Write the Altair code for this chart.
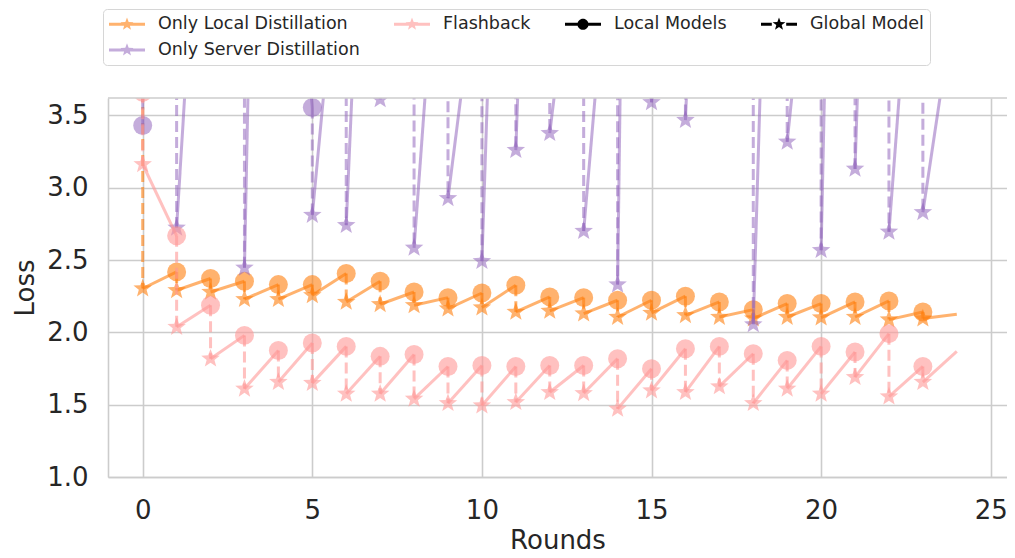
import math
import altair as alt
import pandas as pd

# ---------------- data ----------------
rounds_local = list(range(25))   # local-model evaluations (round 24 = end of last local training)
rounds_global = list(range(24))  # global-model evaluations

local_ld = [4.0, 2.418, 2.372, 2.353, 2.33, 2.33, 2.407, 2.353, 2.279, 2.24, 2.272, 2.326,
            2.245, 2.24, 2.222, 2.222, 2.25, 2.21, 2.157, 2.199, 2.199, 2.21, 2.217, 2.141, 2.125]
global_ld = [2.303, 2.291, 2.279, 2.229, 2.229, 2.256, 2.21, 2.194, 2.187, 2.164, 2.171, 2.141,
             2.148, 2.13, 2.106, 2.134, 2.118, 2.106, 2.095, 2.106, 2.102, 2.106, 2.088, 2.095]

local_sd = [3.43, 7.0, 6.55, 7.5, 14.0, 3.554, 5.30, 8.14, 8.0, 5.81, 4.78, 9.55,
            10.0, 5.3, 5.45, 20.0, 8.0, 9.0, 7.0, 9.98, 5.6, 13.6, 10.35, 5.8, 4.4]
global_sd = [4.8, 2.723, 5.0, 2.446, 6.0, 2.811, 2.741, 3.61, 2.584, 2.927, 2.492, 3.26,
             3.377, 2.70, 2.33, 3.59, 3.467, 6.0, 2.055, 3.317, 2.568, 3.13, 2.695, 2.83]

local_fb = [3.66, 2.667, 2.187, 1.979, 1.875, 1.926, 1.903, 1.834, 1.847, 1.764, 1.771, 1.764,
            1.771, 1.771, 1.818, 1.748, 1.887, 1.903, 1.852, 1.806, 1.903, 1.864, 1.991, 1.764, 1.868]
global_fb = [3.162, 2.037, 1.818, 1.61, 1.656, 1.649, 1.575, 1.575, 1.54, 1.51, 1.494, 1.517,
             1.586, 1.579, 1.471, 1.598, 1.586, 1.626, 1.51, 1.61, 1.575, 1.69, 1.556, 1.656]

methods = ["Only Local Distillation", "Only Server Distillation", "Flashback"]
method_colors = ["#ff7f0e", "#9467bd", "#ff9896"]
method_opacity = [0.6, 0.55, 0.6]
series = {
    "Only Local Distillation": (local_ld, global_ld),
    "Only Server Distillation": (local_sd, global_sd),
    "Flashback": (local_fb, global_fb),
}

x_ticks = [0, 5, 10, 15, 20, 25]
y_ticks = [1.0, 1.5, 2.0, 2.5, 3.0, 3.5]

legend_entries = ["Only Local Distillation", "Flashback", "Local Models", "Global Model",
                  "Only Server Distillation"]

# ---------------- layout / style ----------------
FONT = "DejaVu Sans"
TXT = "#262626"
GRID = "#cccccc"
W, H = 899, 379
xs = alt.Scale(domain=[-1.023, 25.48], nice=False, zero=False)
ys = alt.Scale(domain=[1.0, 3.62], nice=False, zero=False)

x_axis = alt.Axis(values=x_ticks, title="Rounds", grid=True, gridColor=GRID, gridWidth=1.6,
                  domain=True, domainColor=GRID, domainWidth=1.6, ticks=False, tickSize=0,
                  labelFont=FONT, labelFontSize=26, labelColor=TXT, labelPadding=20,
                  titleFont=FONT, titleFontSize=26, titleFontWeight="normal", titleColor=TXT,
                  titlePadding=4)
y_axis = alt.Axis(values=y_ticks, format=".1f", title="Loss", grid=True, gridColor=GRID,
                  gridWidth=1.6, domain=True, domainColor=GRID, domainWidth=1.6, ticks=False,
                  tickSize=0, labelFont=FONT, labelFontSize=26, labelColor=TXT, labelPadding=20,
                  titleFont=FONT, titleFontSize=26, titleFontWeight="normal", titleColor=TXT,
                  titlePadding=8)


# ---------------- marker / legend symbol paths ----------------
def star_path(cx, R):
    pts = []
    for k in range(10):
        a = -math.pi / 2 + k * math.pi / 5
        rr = R if k % 2 == 0 else R * 0.42
        pts.append((cx + rr * math.cos(a), rr * math.sin(a)))
    return "M" + "L".join(f"{px:.3f},{py:.3f}" for px, py in pts) + "Z"


def rect(x0, x1, t=0.17):
    return f"M{x0},{-t}L{x1},{-t}L{x1},{t}L{x0},{t}Z"


def circle(cx, r):
    return (f"M{cx - r:.3f},0A{r},{r},0,1,1,{cx + r:.3f},0"
            f"A{r},{r},0,1,1,{cx - r:.3f},0Z")


STAR = star_path(0, 1)

layers = []
for m, col, op in zip(methods, method_colors, method_opacity):
    loc, glo = series[m]
    solid = pd.DataFrame({"x": rounds_global, "y": glo,
                          "x2": [r + 1 for r in rounds_global], "y2": loc[1:]})
    dashed = pd.DataFrame({"x": rounds_global, "y": loc[:24], "y2": glo})
    circ = pd.DataFrame({"x": rounds_global, "y": loc[:24]})
    star = pd.DataFrame({"x": rounds_global, "y": glo})

    layers.append(alt.Chart(solid).mark_rule(color=col, opacity=op, strokeWidth=3, clip=True)
                  .encode(x=alt.X("x:Q", scale=xs, axis=x_axis),
                          y=alt.Y("y:Q", scale=ys, axis=y_axis),
                          x2="x2:Q", y2="y2:Q"))
    layers.append(alt.Chart(dashed).mark_rule(color=col, opacity=op, strokeWidth=3,
                                               strokeDash=[11, 5], clip=True)
                  .encode(x=alt.X("x:Q", scale=xs, axis=x_axis),
                          y=alt.Y("y:Q", scale=ys, axis=y_axis), y2="y2:Q"))
    layers.append(alt.Chart(circ).mark_point(shape="circle", filled=True, size=360, color=col,
                                              opacity=op, strokeWidth=0, clip=True)
                  .encode(x=alt.X("x:Q", scale=xs, axis=x_axis),
                          y=alt.Y("y:Q", scale=ys, axis=y_axis)))
    layers.append(alt.Chart(star).mark_point(shape=STAR, filled=True, size=380, color=col,
                                              opacity=op, strokeWidth=0, clip=True)
                  .encode(x=alt.X("x:Q", scale=xs, axis=x_axis),
                          y=alt.Y("y:Q", scale=ys, axis=y_axis)))

# top frame line (spine)
layers.append(alt.Chart(pd.DataFrame({"k": [0]})).mark_rule(color=GRID, strokeWidth=1.6)
              .encode(x=alt.value(0), x2=alt.value(W), y=alt.value(0)))

line_star = rect(-1, 3) + star_path(1, 0.75)
line_circle = rect(-1, 3) + circle(1, 0.62)
dash_star = rect(-1, 0.2) + rect(1.8, 3) + star_path(1, 0.75)

entry_paths = [line_star, line_star, line_circle, dash_star, line_star]
# method colours pre-blended with white at the marks' opacity; black keys opaque
entry_colors = ["#ffb26e", "#ffc1c0", "#000000", "#000000", "#c4acdb"]

leg_df = pd.DataFrame({"entry": legend_entries, "x": [-5] * 5, "y": [2.0] * 5})
legend = alt.Legend(orient="none", direction="horizontal", legendX=-5, legendY=-89, columns=4,
                    columnPadding=34, rowPadding=8, labelOffset=31, symbolSize=324,
                    symbolStrokeWidth=0, symbolOpacity=1, gridAlign="each",
                    labelFont=FONT, labelFontSize=17.5, labelColor=TXT, labelLimit=400,
                    strokeColor="#d6d6d6", fillColor="#ffffff", cornerRadius=4, padding=6)
layers.append(alt.Chart(leg_df).mark_point(filled=True, clip=True, size=100, opacity=1)
              .encode(x=alt.X("x:Q", scale=xs, axis=x_axis),
                      y=alt.Y("y:Q", scale=ys, axis=y_axis),
                      color=alt.Color("entry:N", title=None, legend=legend,
                                      scale=alt.Scale(domain=legend_entries, range=entry_colors)),
                      shape=alt.Shape("entry:N", title=None,
                                      scale=alt.Scale(domain=legend_entries, range=entry_paths))))

chart = (alt.layer(*layers)
         .properties(width=W, height=H,
                     padding={"left": 100, "top": 90, "right": 0, "bottom": 79},
                     autosize=alt.AutoSizeParams(type="none"))
         .configure_view(stroke="transparent"))

chart.save("out.html", embed_options={"renderer": "svg", "actions": False})
